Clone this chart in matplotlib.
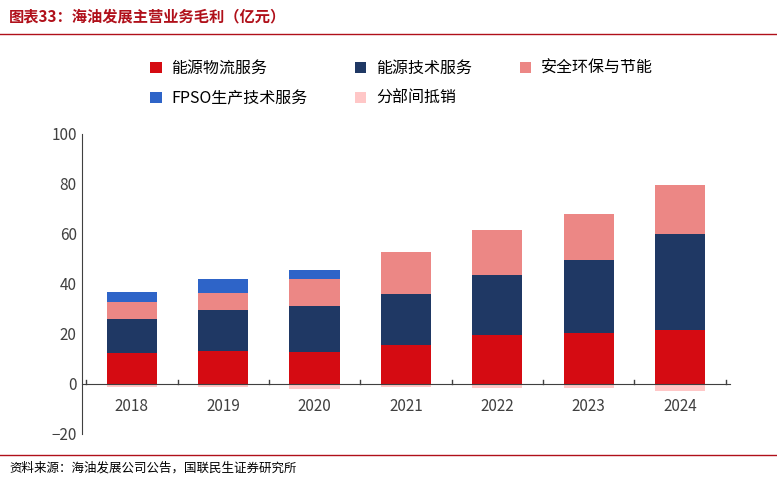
import matplotlib
matplotlib.use("Agg")
import matplotlib.pyplot as plt
import numpy as np

plt.rcParams["font.family"] = ["Noto Sans CJK SC"]

years = ["2018", "2019", "2020", "2021", "2022", "2023", "2024"]
logistics = [12.4, 13.2, 12.8, 15.6, 19.6, 20.4, 21.6]
tech = [13.6, 16.4, 18.4, 20.4, 24.0, 29.2, 38.4]
safety = [6.8, 6.8, 10.8, 16.8, 18.0, 18.4, 19.6]
fpso = [4.0, 5.6, 3.6, 0, 0, 0, 0]
elim = [-1.1, -1.1, -2.1, -1.1, -1.7, -1.7, -2.7]

names = ["能源物流服务", "能源技术服务", "安全环保与节能", "FPSO生产技术服务", "分部间抵销"]
colors = ["#D50B12", "#1F3864", "#EC8785", "#2E64C8", "#FFC7C7"]

fig = plt.figure(figsize=(7.77, 4.82), dpi=100)
fig.text(0.012, 0.965, "图表33：海油发展主营业务毛利（亿元）", fontsize=11, fontweight="bold", color="#B0101A", va="center")
fig.add_artist(plt.Line2D([0, 1], [0.93, 0.93], color="#B0101A", lw=1))
fig.add_artist(plt.Line2D([0, 1], [0.055, 0.055], color="#B0101A", lw=1))
fig.text(0.012, 0.028, "资料来源：海油发展公司公告，国联民生证券研究所", fontsize=9, va="center")

ax = fig.add_axes([0.105, 0.0996, 0.835, 0.6224])
x = np.arange(len(years))
w = 0.55
b = np.zeros(len(years))
for vals, c, n in zip([logistics, tech, safety, fpso], colors[:4], names[:4]):
    ax.bar(x, vals, w, bottom=b, color=c, label=n)
    b += np.array(vals)
ax.bar(x, elim, w, color=colors[4], label=names[4])

ax.set_ylim(-20, 100)
ax.set_yticks(range(-20, 101, 20))
ax.set_xlim(-0.55, 6.55)
ax.set_xticks(x)
ax.set_xticklabels(years)
ax.tick_params(axis="x", length=0, pad=10, labelsize=11, colors="#404040")
ax.tick_params(axis="y", labelsize=11, colors="#404040", length=0)
for s in ["top", "right"]:
    ax.spines[s].set_visible(False)
ax.spines["bottom"].set_position(("data", 0))
ax.spines["bottom"].set_color("#404040")
ax.spines["left"].set_color("#404040")
for xt in np.arange(-0.5, 7, 1):
    ax.plot([xt, xt], [0, 1.5], color="#404040", lw=1)

h, l = ax.get_legend_handles_labels()
order = [0, 3, 1, 4, 2]
fig.legend([h[i] for i in order], [l[i] for i in order], loc="upper left", bbox_to_anchor=(0.175, 0.905),
           ncol=3, frameon=False, fontsize=11.5, handlelength=0.7, handleheight=0.7,
           columnspacing=3.0, labelspacing=0.8, handletextpad=0.6)
fig.savefig("out.png", dpi=100)
